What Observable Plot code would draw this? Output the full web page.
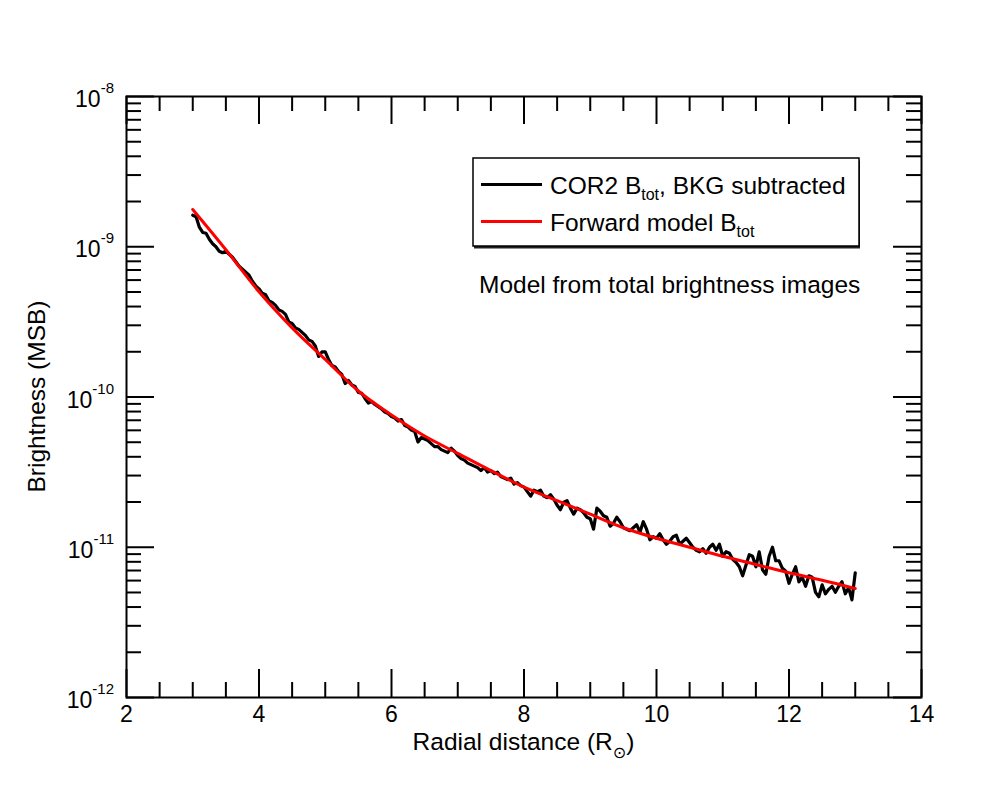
<!DOCTYPE html>
<html>
<head>
<meta charset="utf-8">
<script src="https://cdn.jsdelivr.net/npm/d3@7"></script>
<script src="https://cdn.jsdelivr.net/npm/@observablehq/plot@0.6"></script>
<style>
  html, body { margin: 0; padding: 0; background: #fff; }
  #chart { width: 1000px; height: 800px; }
</style>
</head>
<body>
<div id="chart"></div>
<script>
// COR2 total brightness profile, sampled every 0.05 R_sun from 3 to 13 R_sun
// (values are log10 of brightness in units of mean solar brightness)
const cor2Start = 3.0;
const cor2Step = 0.05;
const cor2LogBtot = [
  -8.79, -8.80, -8.87, -8.905, -8.91, -8.95, -8.98, -9.00, -9.03, -9.04,
  -9.03, -9.05, -9.07, -9.10, -9.13, -9.15, -9.17, -9.19, -9.23, -9.26,
  -9.28, -9.31, -9.32, -9.36, -9.37, -9.39, -9.42, -9.43, -9.45, -9.50,
  -9.51, -9.54, -9.55, -9.57, -9.59, -9.62, -9.63, -9.66, -9.73, -9.70,
  -9.70, -9.75, -9.79, -9.80, -9.83, -9.85, -9.91, -9.89, -9.92, -9.93,
  -9.97, -9.975, -10.01, -10.04, -10.03, -10.05, -10.065, -10.08, -10.10, -10.11,
  -10.13, -10.14, -10.16, -10.15, -10.19, -10.20, -10.22, -10.23, -10.30, -10.27,
  -10.28, -10.29, -10.31, -10.33, -10.33, -10.35, -10.36, -10.37, -10.34, -10.36,
  -10.39, -10.41, -10.42, -10.44, -10.45, -10.46, -10.47, -10.49, -10.47, -10.50,
  -10.49, -10.51, -10.50, -10.53, -10.54, -10.55, -10.54, -10.58, -10.57, -10.59,
  -10.60, -10.63, -10.66, -10.62, -10.63, -10.62, -10.66, -10.67, -10.65, -10.68,
  -10.72, -10.75, -10.70, -10.69, -10.74, -10.78, -10.74, -10.75, -10.77, -10.80,
  -10.81, -10.88, -10.74, -10.76, -10.79, -10.80, -10.86, -10.84, -10.80, -10.83,
  -10.87, -10.88, -10.89, -10.87, -10.85, -10.90, -10.83, -10.88, -10.95, -10.93,
  -10.94, -10.91, -10.95, -10.98, -10.96, -10.93, -10.92, -10.98, -10.96, -10.94,
  -10.97, -11.00, -11.02, -11.03, -11.01, -11.04, -11.00, -10.98, -11.02, -10.98,
  -11.06, -11.03, -11.04, -11.08, -11.10, -11.13, -11.19, -11.12, -11.05, -11.06,
  -11.13, -11.03, -11.15, -11.18, -11.06, -11.00, -11.09, -11.09, -11.14, -11.16,
  -11.24, -11.18, -11.13, -11.23, -11.20, -11.26, -11.19, -11.20, -11.30, -11.33,
  -11.25, -11.31, -11.28, -11.26, -11.30, -11.26, -11.23, -11.31, -11.27, -11.35,
  -11.17
];

// Forward model total brightness (log10 MSB)
const modelRadius = [3, 3.5, 4, 4.5, 5, 5.5, 6, 6.5, 7, 7.5, 8, 8.5, 9, 9.5, 10, 10.5, 11, 11.5, 12, 12.5, 13];
const modelLogBtot = [-8.752, -9.02, -9.30, -9.54, -9.75, -9.96, -10.12, -10.26, -10.375, -10.49, -10.60,
  -10.69, -10.78, -10.87, -10.94, -11.00, -11.06, -11.115, -11.17, -11.22, -11.275];

// Axis ticks
const xMajorTicks = [2, 4, 6, 8, 10, 12, 14];
const xMinorTicks = [2.5, 3, 3.5, 4.5, 5, 5.5, 6.5, 7, 7.5, 8.5, 9, 9.5, 10.5, 11, 11.5, 12.5, 13, 13.5];
const yExponents = [-12, -11, -10, -9, -8];
const yMinorMantissas = [2, 3, 4, 5, 6, 7, 8, 9];

const yMajorTicks = yExponents.map(e => 10 ** e);
const yMinorTicks = yExponents.slice(0, -1).flatMap(e => yMinorMantissas.map(m => m * 10 ** e));

const observed = cor2LogBtot.map((v, i) => ({r: +(cor2Start + i * cor2Step).toFixed(2), b: 10 ** v}));
const model = modelRadius.map((r, i) => ({r, b: 10 ** modelLogBtot[i]}));

const FONT = '"Liberation Sans", Arial, Helvetica, sans-serif';
const W = 1000, H = 800;
const mL = 126, mR = 79, mT = 96, mB = 103;
const frameW = W - mL - mR, frameH = H - mT - mB;
const MAJOR = 28, MINOR = 15;
const TEXT = 24.5;

const tick = {stroke: "black", strokeWidth: 2};

const chart = Plot.plot({
  width: W,
  height: H,
  marginLeft: mL,
  marginRight: mR,
  marginTop: mT,
  marginBottom: mB,
  style: {fontFamily: FONT, fontSize: "23px", color: "black", background: "white"},
  x: {domain: [2, 14], axis: null},
  y: {type: "log", domain: [1e-12, 1e-8], axis: null},
  marks: [
    // inward ticks on all four sides
    Plot.ruleX(xMajorTicks, {...tick, insetTop: frameH - MAJOR}),
    Plot.ruleX(xMinorTicks, {...tick, insetTop: frameH - MINOR}),
    Plot.ruleX(xMajorTicks, {...tick, insetBottom: frameH - MAJOR}),
    Plot.ruleX(xMinorTicks, {...tick, insetBottom: frameH - MINOR}),
    Plot.ruleY(yMajorTicks, {...tick, insetRight: frameW - MAJOR}),
    Plot.ruleY(yMinorTicks, {...tick, insetRight: frameW - MINOR}),
    Plot.ruleY(yMajorTicks, {...tick, insetLeft: frameW - MAJOR}),
    Plot.ruleY(yMinorTicks, {...tick, insetLeft: frameW - MINOR}),
    Plot.line(observed, {x: "r", y: "b", stroke: "black", strokeWidth: 3.2}),
    Plot.line(model, {x: "r", y: "b", stroke: "#ff0000", strokeWidth: 3, curve: "monotone-x"}),
    Plot.frame({stroke: "black", strokeWidth: 2}),
    Plot.axisX({ticks: xMajorTicks, tickSize: 0, tickPadding: 8, label: null, tickFormat: d => String(d)})
  ]
});

document.getElementById("chart").appendChild(chart);

const svg = d3.select(chart);
const yScale = chart.scale("y");

// y tick labels as powers of ten
const yLabels = svg.append("g").attr("font-family", FONT).attr("fill", "black");
yExponents.forEach(e => {
  const y = yScale.apply(10 ** e);
  const t = yLabels.append("text")
    .attr("x", 114)
    .attr("y", y + 11)
    .attr("text-anchor", "end")
    .attr("font-size", 23);
  t.append("tspan").text("10");
  t.append("tspan").attr("font-size", 15).attr("dy", -14).text(String(e));
});

// axis titles
const xTitle = svg.append("text")
  .attr("x", mL + frameW / 2)
  .attr("y", 750)
  .attr("text-anchor", "middle")
  .attr("font-family", FONT)
  .attr("font-size", TEXT)
  .attr("fill", "black");
xTitle.append("tspan").text("Radial distance (R");
xTitle.append("tspan").attr("font-size", 16).attr("dy", 8).attr("font-family", "DejaVu Sans").text("\u2299");
xTitle.append("tspan").attr("dy", -8).text(")");

svg.append("text")
  .attr("transform", `translate(45,${mT + frameH / 2}) rotate(-90)`)
  .attr("text-anchor", "middle")
  .attr("font-family", FONT)
  .attr("font-size", TEXT)
  .attr("fill", "black")
  .text("Brightness (MSB)");

// legend box
const lg = svg.append("g")
  .attr("font-family", FONT)
  .attr("font-size", TEXT)
  .attr("text-anchor", "start")
  .attr("fill", "black");
lg.append("rect").attr("x", 474).attr("y", 160.5).attr("width", 386).attr("height", 88).attr("fill", "#222");
lg.append("rect").attr("x", 473).attr("y", 158).attr("width", 386).attr("height", 88)
  .attr("fill", "white").attr("stroke", "black").attr("stroke-width", 1.5);
lg.append("line").attr("x1", 481).attr("x2", 542).attr("y1", 184.5).attr("y2", 184.5)
  .attr("stroke", "black").attr("stroke-width", 3);
lg.append("line").attr("x1", 481).attr("x2", 542).attr("y1", 221.5).attr("y2", 221.5)
  .attr("stroke", "#ff0000").attr("stroke-width", 3);
const l1 = lg.append("text").attr("x", 550).attr("y", 194);
l1.append("tspan").text("COR2 B");
l1.append("tspan").attr("font-size", 16).attr("dy", 6).text("tot");
l1.append("tspan").attr("dy", -6).text(", BKG subtracted");
const l2 = lg.append("text").attr("x", 550).attr("y", 231);
l2.append("tspan").text("Forward model B");
l2.append("tspan").attr("font-size", 16).attr("dy", 6).text("tot");

svg.append("text")
  .attr("x", 479)
  .attr("y", 293)
  .attr("text-anchor", "start")
  .attr("font-family", FONT)
  .attr("font-size", TEXT)
  .attr("fill", "black")
  .text("Model from total brightness images");
</script>
</body>
</html>
